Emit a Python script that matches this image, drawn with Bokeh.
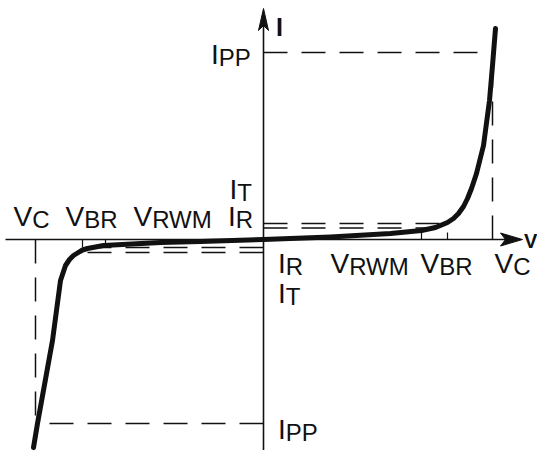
from bokeh.plotting import figure
from bokeh.models import Range1d
from bokeh.embed import file_html
from bokeh.resources import INLINE
from bokeh.core.properties import value

# ---- TVS diode I-V characteristic (schematic units) ----
curve_v = [-230, -226, -211, -203, -200, -198, -194, -190, -186, -181, -176, -160, -103, -63,
           0, 67, 127, 158, 172, 184, 190, 195, 200, 204, 208, 213, 220, 226, 229, 232]
curve_i = [-208, -184, -101, -41, -32, -26, -20, -16, -13.5, -10.5, -9, -6, -3, -2,
           0, 2.5, 6, 9, 12, 17, 21, 26, 33, 41, 51, 66, 94, 139, 174, 211]

# characteristic levels, positive (right) and negative (left) quadrants
V_C_pos, V_BR_pos, V_RWM_pos = 229, 184, 158
V_C_neg, V_BR_neg, V_RWM_neg = -228, -181, -158
I_PP_pos, I_T_pos, I_R_pos = 187, 16, 11.5
I_PP_neg, I_T_neg, I_R_neg = -184, -13, -8
IR_end_pos, IT_end_pos = 168, 184
IR_end_neg, IT_end_neg = -170, -183

# axis extents
X_MIN, X_MAX = -258, 259
Y_MIN, Y_MAX = -232, 231

FONT = value("Liberation Sans")
BLACK = "#111111"

p = figure(width=537, height=450, x_range=Range1d(-263, 274), y_range=Range1d(-211, 239),
           x_axis_type=None, y_axis_type=None, toolbar_location=None,
           output_backend="svg", min_border=0)
p.grid.visible = False
p.outline_line_color = None
p.background_fill_color = "white"
p.border_fill_color = "white"

# axes
p.line([X_MIN, X_MAX - 10], [0, 0], line_color=BLACK, line_width=1.6)
p.line([0, 0], [Y_MIN, Y_MAX - 10], line_color=BLACK, line_width=1.6)
# arrow heads (vee shaped)
hl, hw, nd = 22, 6.5, 5
p.patch([X_MAX, X_MAX - hl, X_MAX - hl + nd, X_MAX - hl],
        [0, hw, 0, -hw], color=BLACK)
hl2, hw2 = 22, 5
p.patch([0, hw2, 0, -hw2], [Y_MAX, Y_MAX - hl2, Y_MAX - hl2 + nd, Y_MAX - hl2], color=BLACK)

# dashed guide lines
DASH = "24 14"
dw = 1.5
p.line([0, V_C_pos], [I_PP_pos, I_PP_pos], line_dash=DASH, line_color=BLACK, line_width=dw)
p.line([V_C_pos, V_C_pos], [0, I_PP_pos], line_dash=DASH, line_color=BLACK, line_width=dw)
p.line([0, IT_end_pos], [I_T_pos, I_T_pos], line_dash=DASH, line_color=BLACK, line_width=dw)
p.line([0, IR_end_pos], [I_R_pos, I_R_pos], line_dash=DASH, line_color=BLACK, line_width=dw)

p.line([0, V_C_neg], [I_PP_neg, I_PP_neg], line_dash=DASH, line_color=BLACK, line_width=dw)
p.line([V_C_neg, V_C_neg], [0, I_PP_neg], line_dash=DASH, line_color=BLACK, line_width=dw)
p.line([0, IT_end_neg], [I_T_neg, I_T_neg], line_dash=DASH, line_color=BLACK, line_width=dw)
p.line([0, IR_end_neg], [I_R_neg, I_R_neg], line_dash=DASH, line_color=BLACK, line_width=dw)

# small ticks on the V axis
p.segment(x0=[V_RWM_pos, V_BR_pos], y0=[0, 0], x1=[V_RWM_pos, V_BR_pos], y1=[7, 7],
          line_color=BLACK, line_width=1.2)
p.segment(x0=[V_RWM_neg, V_BR_neg], y0=[0, 0], x1=[V_RWM_neg, V_BR_neg], y1=[-8, -8],
          line_color=BLACK, line_width=1.2)

# the characteristic curve
p.line(curve_v, curve_i, line_color=BLACK, line_width=5, line_join="round", line_cap="round")

# labels: (main, subscript, x, baseline y)
MAIN_SIZE, SUB_SIZE = 28, 24
ADV = {"V": 0.667, "I": 0.278}
TY = 9.5  # baseline correction
labels = [
    ("V", "C", -250, 14), ("V", "BR", -198, 14), ("V", "RWM", -130, 14),
    ("I", "R", -35.5, 14), ("I", "T", -34, 41),
    ("I", "R", 14.5, -33), ("V", "RWM", 67, -33), ("V", "BR", 157, -33),
    ("V", "C", 231, -33), ("I", "T", 14.5, -63),
    ("I", "PP", -52.5, 176), ("I", "PP", 14.5, -199),
]
mx = [l[2] for l in labels]
my = [l[3] + TY for l in labels]
mt = [l[0] for l in labels]
sx = [l[2] + ADV[l[0]] * MAIN_SIZE for l in labels]
sy = [l[3] - 3 + TY for l in labels]
st = [l[1] for l in labels]
p.text(x=mx, y=my, text=mt, text_font=FONT, text_font_size=f"{MAIN_SIZE}px",
       text_baseline="alphabetic", text_align="left", text_color=BLACK)
p.text(x=sx, y=sy, text=st, text_font=FONT, text_font_size=f"{SUB_SIZE}px",
       text_baseline="alphabetic", text_align="left", text_color=BLACK)

# axis names
p.text(x=[12.5], y=[203 + TY], text=["I"], text_font=FONT, text_font_size="25px",
       text_font_style="bold", text_baseline="alphabetic", text_align="left", text_color=BLACK)
p.text(x=[260.5], y=[-11 + TY], text=["V"], text_font=FONT, text_font_size="20px",
       text_font_style="bold", text_baseline="alphabetic", text_align="left", text_color=BLACK)

open("out.html", "w").write(file_html(p, INLINE))
